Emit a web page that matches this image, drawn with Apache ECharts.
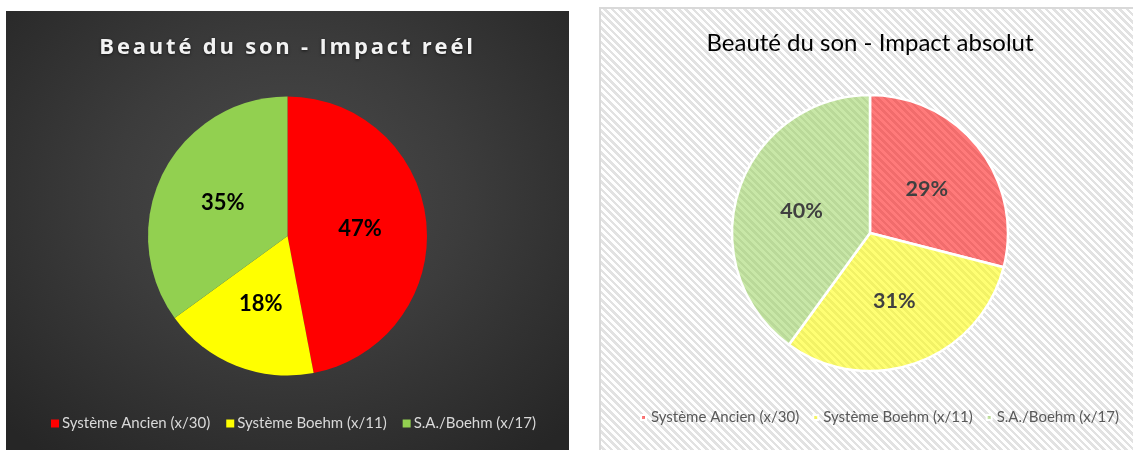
<!DOCTYPE html>
<html>
<head>
<meta charset="utf-8">
<title>Beauté du son</title>
<script src="https://cdn.jsdelivr.net/npm/echarts@6/dist/echarts.min.js"></script>
<style>
  html, body { margin: 0; padding: 0; width: 1133px; height: 450px; overflow: hidden; background: #fff; }
  #realChart {
    position: absolute; left: 6px; top: 11px; width: 563px; height: 439px;
    background: radial-gradient(ellipse 70% 75% at 50% 42%, #4b4b4b 0%, #3c3c3c 45%, #262626 100%);
  }
  #absChart {
    position: absolute; left: 599px; top: 7px; width: 540px; height: 445px; box-sizing: border-box;
    border-left: 2px solid #d9d9d9; border-top: 2px solid #d9d9d9;
    background: repeating-linear-gradient(45deg, #ffffff 0 2.6px, #e2e2e2 2.6px 5.2px);
  }
</style>
</head>
<body>
<div id="realChart"></div>
<div id="absChart"></div>
<script>
// categories
const systems = ['Système Ancien (x/30)', 'Système Boehm (x/11)', 'S.A./Boehm (x/17)']
// parts en %
const realShares = [47, 18, 35]
const absoluteShares = [29, 31, 40]

const realTitle = 'Beauté du son - Impact reél'
const absTitle = 'Beauté du son - Impact absolut'

const realColors = ['#ff0000', '#ffff00', '#92d050']
const absColors = ['rgba(255,0,0,0.52)', 'rgba(255,255,0,0.55)', 'rgba(146,208,80,0.5)']

// le titre de gauche est espacé (letter-spacing), zrender ne le gère pas
const baseFillText = CanvasRenderingContext2D.prototype.fillText
CanvasRenderingContext2D.prototype.fillText = function (text, x, y, maxWidth) {
  if (text === realTitle && 'letterSpacing' in this) {
    const prev = this.letterSpacing
    this.letterSpacing = '2.8px'
    const res = maxWidth === undefined ? baseFillText.call(this, text, x, y) : baseFillText.call(this, text, x, y, maxWidth)
    this.letterSpacing = prev
    return res
  }
  return maxWidth === undefined ? baseFillText.call(this, text, x, y) : baseFillText.call(this, text, x, y, maxWidth)
}

const toData = (values, colors) => systems.map((name, i) => ({
  name,
  value: values[i],
  itemStyle: { color: colors[i] }
}))

// Impact reél (fond sombre)
const realChart = echarts.init(document.getElementById('realChart'), null, { renderer: 'canvas' })
realChart.setOption({
  backgroundColor: 'transparent',
  animation: false,
  title: {
    text: realTitle,
    left: 'center',
    top: 26,
    padding: 0,
    textStyle: {
      fontFamily: 'Open Sans',
      fontSize: 22,
      fontWeight: 'bold',
      color: '#f2f2f2',
      textShadowColor: 'rgba(0,0,0,0.6)',
      textShadowBlur: 3,
      textShadowOffsetY: 1
    }
  },
  legend: {
    data: systems,
    left: 45,
    top: 405,
    padding: 0,
    icon: 'rect',
    itemWidth: 8,
    itemHeight: 8,
    itemGap: 16,
    selectedMode: false,
    textStyle: { fontFamily: 'Lato', fontSize: 15, color: '#d9d9d9', padding: [0, 0, 0, -2] }
  },
  series: [{
    type: 'pie',
    center: ['50%', 225],
    radius: 139.5,
    startAngle: 90,
    clockwise: true,
    data: toData(realShares, realColors),
    itemStyle: { borderWidth: 0 },
    label: {
      position: 'inside',
      formatter: '{c}%',
      fontFamily: 'Lato',
      fontSize: 22,
      fontWeight: 'bold',
      color: '#000'
    },
    labelLine: { show: false },
    emphasis: { disabled: true }
  }]
})

// Impact absolut (fond hachuré)
const absChart = echarts.init(document.getElementById('absChart'), null, { renderer: 'canvas' })
absChart.setOption({
  backgroundColor: 'transparent',
  animation: false,
  title: {
    text: absTitle,
    left: 'center',
    top: 22,
    padding: 0,
    textStyle: {
      fontFamily: 'Lato',
      fontSize: 24,
      fontWeight: 'normal',
      color: '#000'
    }
  },
  legend: {
    data: systems,
    left: 39,
    top: 401,
    padding: 0,
    icon: 'rect',
    itemWidth: 5,
    itemHeight: 5,
    itemGap: 13,
    selectedMode: false,
    textStyle: { fontFamily: 'Lato', fontSize: 15, color: '#595959' }
  },
  series: [{
    type: 'pie',
    center: ['50%', 224],
    radius: 138,
    startAngle: 90,
    clockwise: true,
    data: toData(absoluteShares, absColors),
    itemStyle: { borderColor: '#ffffff', borderWidth: 2.5 },
    label: {
      position: 'inside',
      formatter: '{c}%',
      fontFamily: 'Lato',
      fontSize: 21.5,
      fontWeight: 'bold',
      color: '#404040'
    },
    labelLine: { show: false },
    emphasis: { disabled: true }
  }]
})
</script>
</body>
</html>
